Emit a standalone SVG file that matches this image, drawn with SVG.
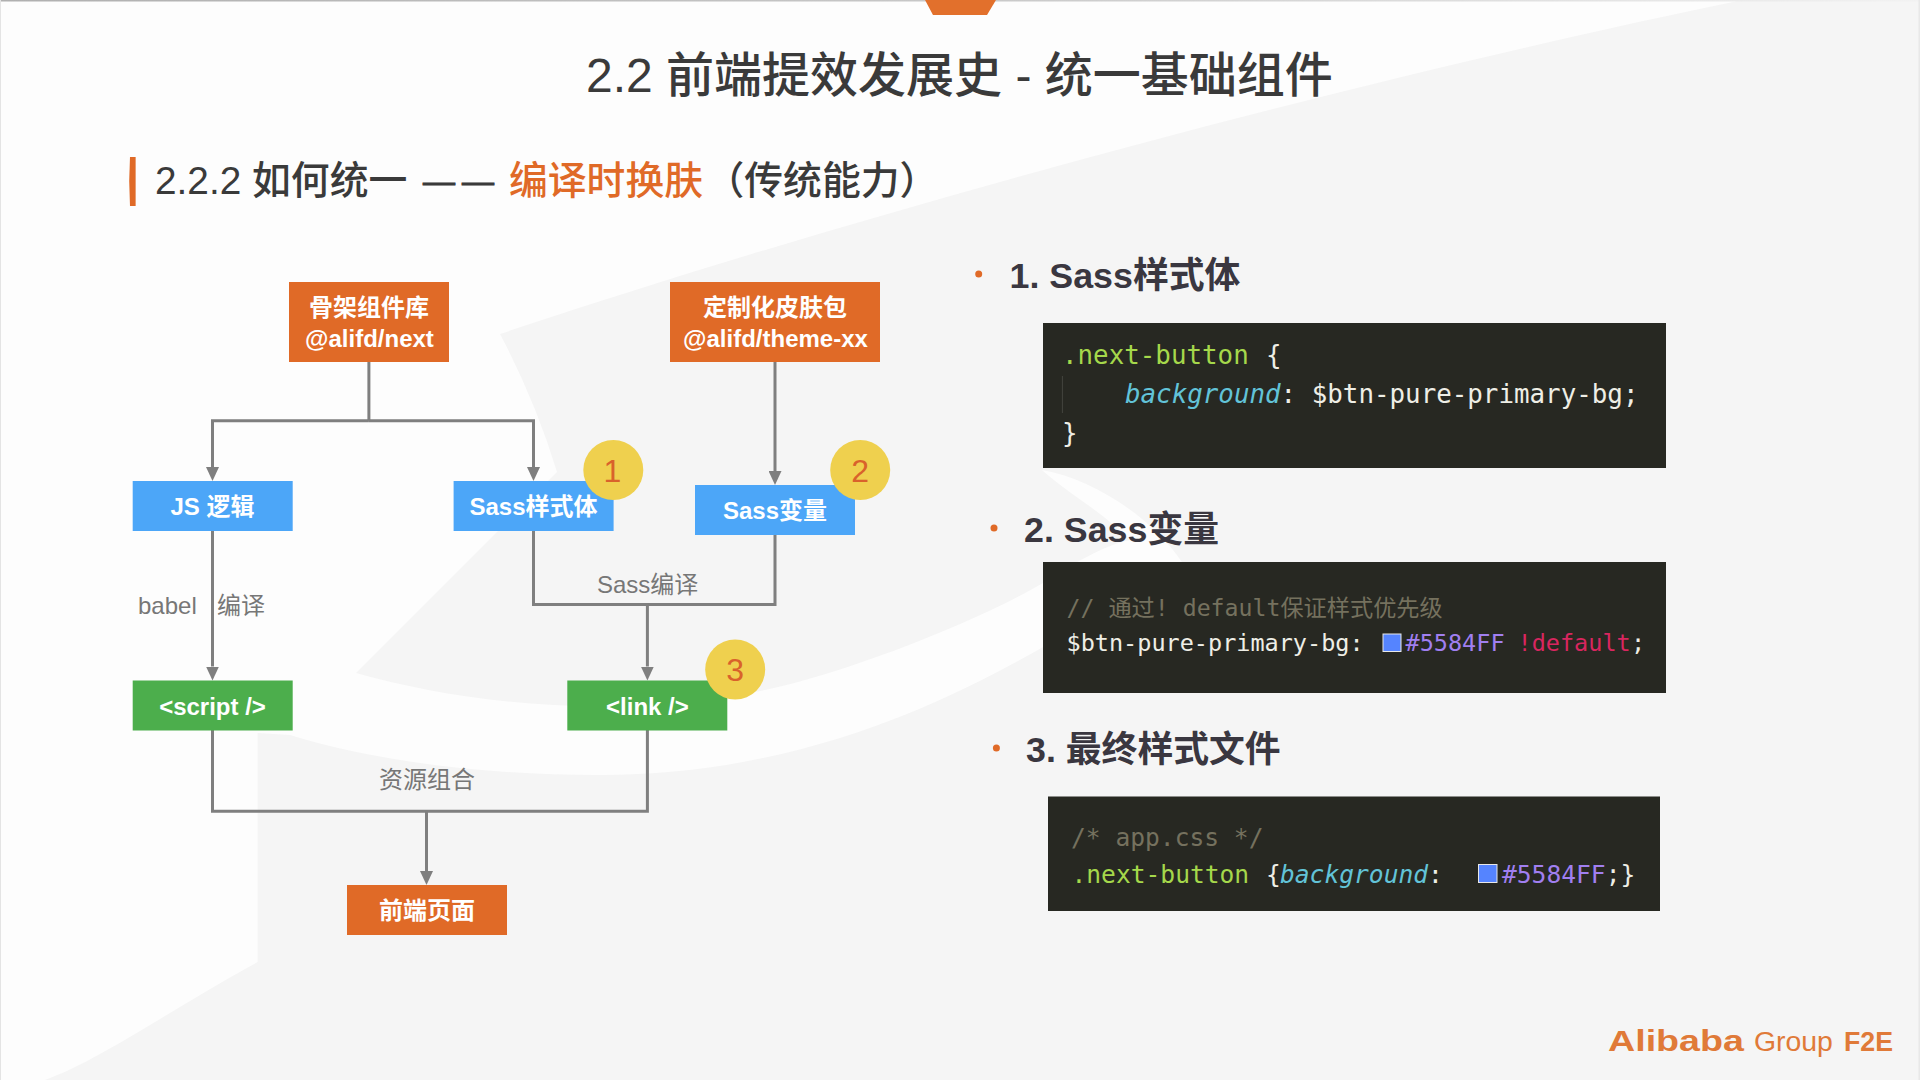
<svg xmlns="http://www.w3.org/2000/svg" width="1920" height="1080" viewBox="0 0 1920 1080">
<defs>
<linearGradient id="topline" x1="0" x2="1" y1="0" y2="0"><stop offset="0" stop-color="#b0b0b0"/><stop offset="0.5" stop-color="#c8c8c8"/><stop offset="1" stop-color="#f2f2f2"/></linearGradient>
<marker id="arrow" markerUnits="userSpaceOnUse" markerWidth="14" markerHeight="13" viewBox="0 0 14 13" refX="0" refY="6.5" orient="auto"><path d="M0,0 L14,6.5 L0,13 Z" fill="#7f7f7f"/></marker>
</defs>
<style>
text{font-family:"Liberation Sans","Noto Sans CJK SC",sans-serif}
.node{fill:#fff;font-size:24px;font-weight:700;text-anchor:middle}
.or{fill:#e06a27}.bl{fill:#4ca6f8}.gr{fill:#4cae4c}
.wire{fill:none;stroke:#7f7f7f;stroke-width:3}
.lbl{fill:#777;font-size:24px}
.badge{fill:#efd04e}
.num{fill:#d9622b;font-size:32px;text-anchor:middle}
.head{fill:#3a3740;font-size:35.8px;font-weight:700}
.dot{fill:#e06a27}
.card{fill:#272822}
.code{font-family:"DejaVu Sans Mono","Noto Sans CJK SC",monospace;fill:#eeeee6}
.c1{font-size:25.85px}.c2{font-size:23.5px}.c2c{font-size:23.2px}.c3{font-size:24.6px}
.sel{fill:#a5d84b}.prop{fill:#62c3d8;font-style:italic}.cmt{fill:#75715e}.hex{fill:#a07ff0}.imp{fill:#d8265f}
.sw{fill:#5584ff;stroke:#e8e8e8;stroke-width:1}
</style>
<rect width="1920" height="1080" fill="#f5f5f5"/>
<path fill="#fdfdfd" d="M0,0 H1743 C1400,70 900,200 500,334 Q535,400 557,472 L356,673 C470,705 620,720 765,690 C850,672 980,620 1043,583 C1070,565 1105,545 1130,540 C1100,510 1070,495 1042,470 C1090,478 1150,515 1182,562 L1182,620 L1043,647 C950,700 800,775 600,775 C480,775 370,760 290,735 L257.6,733 V962 C170,1010 100,1060 45,1080 H0 Z"/>
<rect width="1920" height="1.5" fill="url(#topline)"/>
<rect width="1" height="1080" fill="#e4e4e4"/>
<rect x="1918.5" width="1.5" height="1080" fill="#e8e8e8"/>
<polygon points="925,0 996,0 987,15 933,15" fill="#e2702c"/>

<text x="586" y="92" fill="#3a3a3a" font-size="48" font-weight="500">2.2 前端提效发展史 - 统一基础组件</text>
<path d="M130,157 H135.6 V206 H130 Q128.4,181 130,157 Z" fill="#e06a27"/>
<text y="194" font-size="38.8" font-weight="500" fill="#3a3a3a"><tspan x="155">2.2.2 如何统一</tspan><tspan x="509" fill="#e06a27">编译时换肤</tspan><tspan x="705.5">（传统能力）</tspan></text>
<text x="423" y="191.5" font-size="32" letter-spacing="7" fill="#3a3a3a" stroke="#3a3a3a" stroke-width="1">——</text>

<g id="connectors">
<path class="wire" d="M368.9,362 V420.7"/>
<path class="wire" d="M368.9,420.7 H212.5 V467" marker-end="url(#arrow)"/>
<path class="wire" d="M368.9,420.7 H533.5 V467" marker-end="url(#arrow)"/>
<path class="wire" d="M775,362 V471" marker-end="url(#arrow)"/>
<path class="wire" d="M212.5,531 V666.5" marker-end="url(#arrow)"/>
<path class="wire" d="M533.5,531 V604.6 H775 V535"/>
<path class="wire" d="M647.4,604.6 V666.5" marker-end="url(#arrow)"/>
<path class="wire" d="M212.5,730 V811.3 H647.4 V730"/>
<path class="wire" d="M426.5,811.3 V871" marker-end="url(#arrow)"/>
</g>
<g id="connector-labels">
<text class="lbl" x="138" y="614">babel</text>
<text class="lbl" x="217" y="613.5">编译</text>
<text class="lbl" x="597" y="593">Sass编译</text>
<text class="lbl" x="379" y="787.5">资源组合</text>
</g>

<g id="node-skeleton"><rect class="or" x="289" y="282" width="160" height="80"/><text class="node" x="369" y="315.5">骨架组件库</text><text class="node" x="369.5" y="347">@alifd/next</text></g>
<g id="node-theme"><rect class="or" x="670" y="282" width="210" height="80"/><text class="node" x="775" y="315.5">定制化皮肤包</text><text class="node" x="775.5" y="347">@alifd/theme-xx</text></g>
<g id="node-js"><rect class="bl" x="132.7" y="481" width="160" height="50"/><text class="node" x="212.5" y="514.5">JS 逻辑</text></g>
<g id="node-sass-style"><rect class="bl" x="453.6" y="481" width="160" height="50"/><text class="node" x="533.5" y="515">Sass样式体</text></g>
<g id="node-sass-var"><rect class="bl" x="695" y="485" width="160" height="50"/><text class="node" x="775" y="519">Sass变量</text></g>
<g id="node-script"><rect class="gr" x="132.7" y="680.5" width="160" height="50"/><text class="node" x="212.5" y="715">&lt;script /&gt;</text></g>
<g id="node-link"><rect class="gr" x="567.3" y="680.5" width="160" height="50"/><text class="node" x="647.4" y="715">&lt;link /&gt;</text></g>
<g id="node-page"><rect class="or" x="347" y="885" width="160" height="50"/><text class="node" x="427" y="918.5">前端页面</text></g>
<g id="badge-1"><circle class="badge" cx="613.3" cy="470" r="30"/><text class="num" x="612.5" y="481.5">1</text></g>
<g id="badge-2"><circle class="badge" cx="860.2" cy="470" r="30"/><text class="num" x="860.2" y="481.5">2</text></g>
<g id="badge-3"><circle class="badge" cx="735.2" cy="669.5" r="30"/><text class="num" x="735.2" y="681">3</text></g>

<g id="section-1">
<circle class="dot" cx="978.7" cy="274" r="3.5"/>
<text class="head" x="1009.5" y="288">1. Sass样式体</text>
<rect class="card" x="1043" y="323" width="623" height="145"/>
<line x1="1062.4" y1="376" x2="1062.4" y2="413" stroke="#44453f" stroke-width="1"/>
<text class="code c1" y="364"><tspan class="sel" x="1062">.next-button</tspan><tspan x="1266">{</tspan></text>
<text class="code c1" y="403"><tspan class="prop" x="1125">background</tspan><tspan>: $btn-pure-primary-bg;</tspan></text>
<text class="code c1" y="442" x="1062">}</text>
</g>
<g id="section-2">
<circle class="dot" cx="994" cy="528" r="3.5"/>
<text class="head" x="1024" y="541.5">2. Sass变量</text>
<rect class="card" x="1043" y="562" width="623" height="131"/>
<text class="code c2c cmt" x="1066.5" y="616">// 通过! default保证样式优先级</text>
<text class="code c2" y="651"><tspan x="1066.5">$btn-pure-primary-bg:</tspan></text>
<rect class="sw" x="1383" y="634" width="18" height="17.5"/>
<text class="code c2" y="651"><tspan class="hex" x="1405.5">#5584FF</tspan><tspan class="imp" x="1517.5">!default</tspan><tspan x="1631">;</tspan></text>
</g>
<g id="section-3">
<circle class="dot" cx="996.4" cy="748" r="3.5"/>
<text class="head" x="1026" y="762">3. 最终样式文件</text>
<rect class="card" x="1048" y="796.5" width="612" height="114.5"/>
<text class="code c3 cmt" x="1071" y="846">/* app.css */</text>
<text class="code c3" y="883"><tspan class="sel" x="1071.5">.next-button</tspan><tspan x="1266">{</tspan><tspan class="prop" x="1280">background</tspan><tspan>:</tspan></text>
<rect class="sw" x="1478.5" y="864.5" width="18.5" height="18"/>
<text class="code c3" y="883"><tspan class="hex" x="1502">#5584FF</tspan><tspan>;}</tspan></text>
</g>

<g id="logo" fill="#e07a38">
<text x="1608" y="1050.5" font-size="29" font-weight="700" textLength="136" lengthAdjust="spacingAndGlyphs">Alibaba</text>
<text x="1754" y="1050.5" font-size="28.4">Group</text>
<text x="1844" y="1051" font-size="28" font-weight="700" textLength="49" lengthAdjust="spacingAndGlyphs">F2E</text>
</g>
</svg>
